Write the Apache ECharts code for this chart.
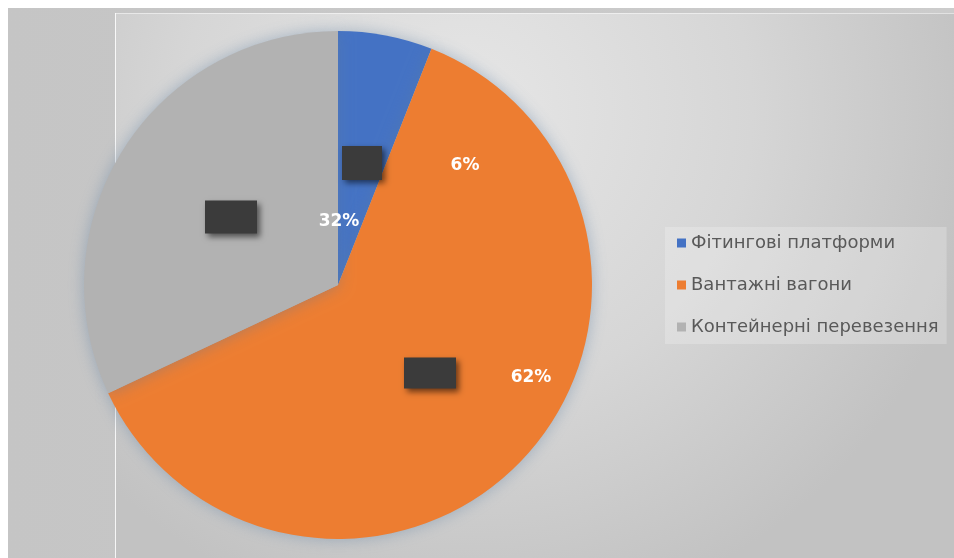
<!DOCTYPE html>
<html>
<head>
<meta charset="utf-8">
<script src="https://cdn.jsdelivr.net/npm/echarts@6/dist/echarts.min.js"></script>
<style>
  html, body { margin: 0; padding: 0; background: #ffffff; }
  #chart { width: 954px; height: 558px; }
</style>
</head>
<body>
<div id="chart"></div>
<script>
// Structure of rail freight by type of rolling stock (%)
const categories = ['Фітингові платформи', 'Вантажні вагони', 'Контейнерні перевезення'];
const shares = [6, 62, 32];
const colors = ['#4472C4', '#ED7D31', '#B2B2B2'];

// Placement of the percentage labels and of the dark caption boxes (px)
const pctLabelPos = [[465, 166], [531, 378], [339, 222]];
const boxPos = [[362, 163], [430, 373], [231, 217]];
const boxSize = [[40, 34], [52, 31], [52, 33]];

const pieCenter = [338, 285];
const pieRadius = 254;

const chart = echarts.init(document.getElementById('chart'), null, { renderer: 'canvas' });

const mainData = categories.map((name, i) => ({ name, value: shares[i] }));
const boxData = categories.map((name, i) => ({
  name,
  value: shares[i],
  label: { width: boxSize[i][0], height: boxSize[i][1] }
}));

const option = {
  backgroundColor: '#ffffff',
  color: colors,
  animation: false,
  graphic: [
    {
      type: 'rect', z: -10, silent: true,
      shape: { x: 8, y: 8, width: 946, height: 550 },
      style: {
        fill: new echarts.graphic.LinearGradient(0, 0, 1, 0, [
          { offset: 0, color: '#c5c5c5' },
          { offset: 1, color: '#cccccc' }
        ])
      }
    },
    {
      type: 'rect', z: -9, silent: true,
      shape: { x: 115, y: 13, width: 839, height: 545 },
      style: {
        fill: new echarts.graphic.RadialGradient(0.42, 0.18, 0.95, [
          { offset: 0, color: '#e6e6e6' },
          { offset: 0.55, color: '#d6d6d6' },
          { offset: 1, color: '#c2c2c2' }
        ])
      }
    },
    {
      type: 'line', z: -8, silent: true,
      shape: { x1: 115.5, y1: 13, x2: 115.5, y2: 558 },
      style: { stroke: 'rgba(255,255,255,0.85)', lineWidth: 1 }
    },
    {
      type: 'line', z: -8, silent: true,
      shape: { x1: 115, y1: 13.5, x2: 954, y2: 13.5 },
      style: { stroke: 'rgba(255,255,255,0.5)', lineWidth: 1 }
    }
  ],
  legend: {
    orient: 'vertical',
    left: 665,
    top: 227,
    padding: [7, 8, 8, 12],
    itemGap: 24,
    itemWidth: 9,
    itemHeight: 9,
    icon: 'rect',
    backgroundColor: 'rgba(255,255,255,0.22)',
    data: categories,
    textStyle: {
      color: '#595959',
      fontFamily: 'DejaVu Sans',
      fontSize: 18,
      padding: [0, 0, 0, 0]
    }
  },
  series: [
    {
      name: 'shares',
      type: 'pie',
      center: pieCenter,
      radius: pieRadius,
      startAngle: 90,
      clockwise: true,
      data: mainData,
      itemStyle: {
        shadowBlur: 16,
        shadowColor: 'rgba(90,125,160,0.45)'
      },
      labelLine: { show: false },
      label: {
        show: true,
        position: 'inside',
        formatter: (p) => p.value + '%',
        color: '#ffffff',
        fontFamily: 'DejaVu Sans',
        fontWeight: 'bold',
        fontSize: 17
      },
      labelLayout: (p) => ({
        x: pctLabelPos[p.dataIndex][0],
        y: pctLabelPos[p.dataIndex][1],
        align: 'center',
        verticalAlign: 'middle'
      }),
      emphasis: { disabled: true }
    },
    {
      name: 'captions',
      type: 'pie',
      silent: true,
      center: pieCenter,
      radius: pieRadius,
      startAngle: 90,
      clockwise: true,
      data: boxData,
      itemStyle: { color: 'rgba(0,0,0,0)' },
      labelLine: { show: false },
      label: {
        show: true,
        position: 'inside',
        formatter: () => ' ',
        backgroundColor: '#3b3b3b',
        shadowColor: 'rgba(0,0,0,0.55)',
        shadowBlur: 6,
        shadowOffsetX: 3,
        shadowOffsetY: 3
      },
      labelLayout: (p) => ({
        x: boxPos[p.dataIndex][0],
        y: boxPos[p.dataIndex][1],
        align: 'center',
        verticalAlign: 'middle'
      }),
      emphasis: { disabled: true }
    }
  ]
};

chart.setOption(option);
</script>
</body>
</html>
